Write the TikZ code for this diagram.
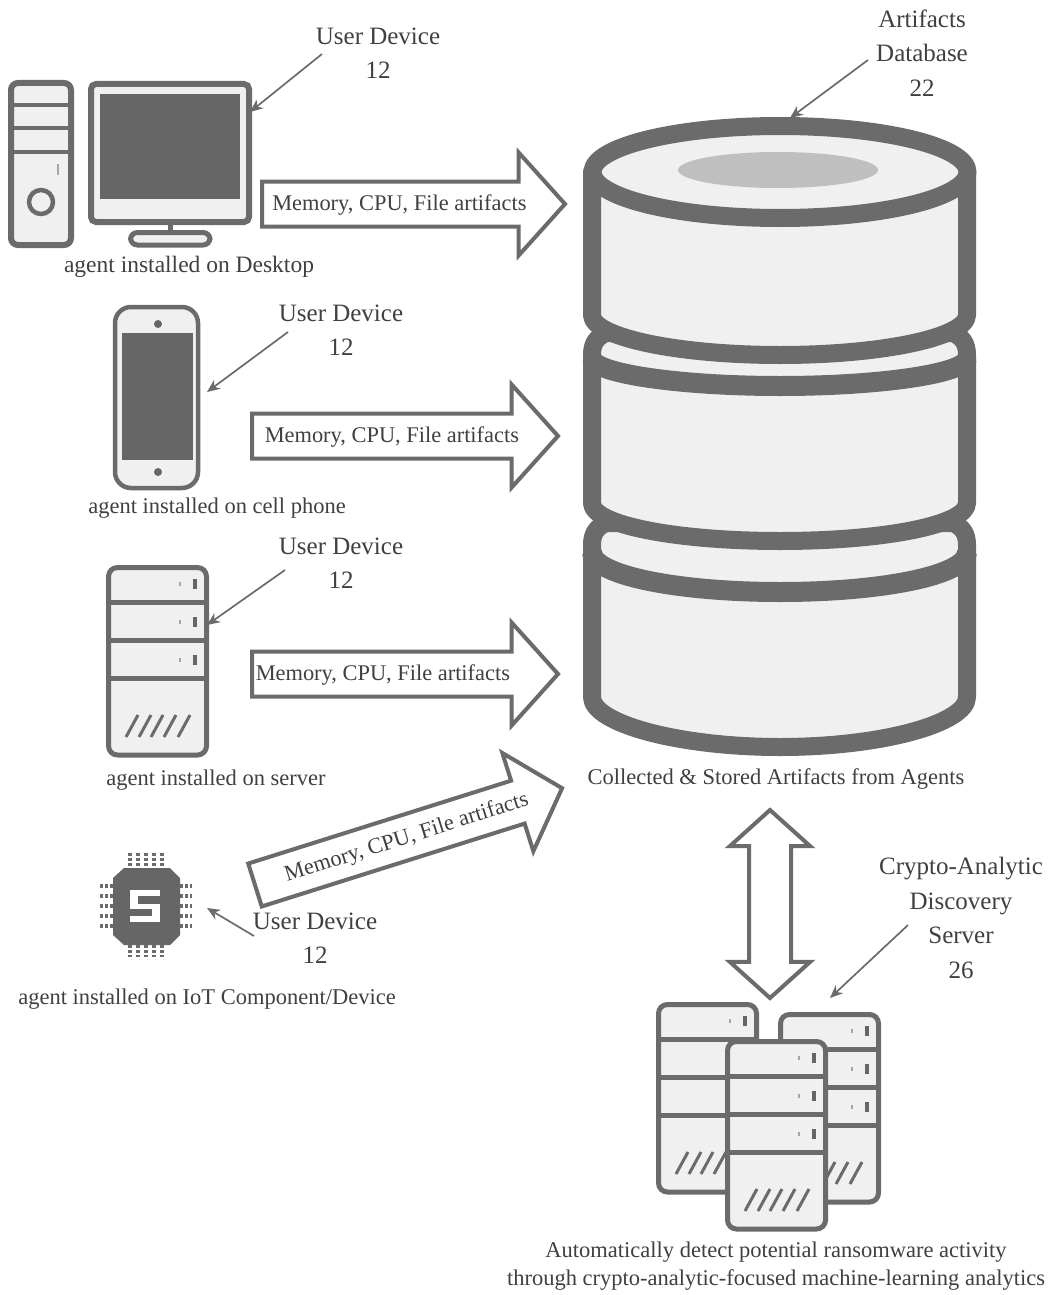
\documentclass[tikz,border=0pt]{standalone}
\usepackage{fontspec}
\setmainfont{Liberation Serif}
\usetikzlibrary{shapes.arrows,arrows.meta}
\definecolor{ink}{gray}{0.42}
\definecolor{dark}{gray}{0.40}
\definecolor{pale}{gray}{0.94}
\definecolor{txt}{gray}{0.25}
\tikzset{
  lab/.style={text=txt,align=center,inner sep=0pt,font=\fontsize{25}{34.5}\selectfont},
  captext/.style={text=txt,align=center,inner sep=0pt,font=\fontsize{22.5}{28}\selectfont},
  blockarrow/.style={single arrow,draw=ink,fill=white,line width=4pt,outer sep=0pt,
    single arrow head extend=29pt,single arrow tip angle=96,
    inner ysep=0pt,inner xsep=0pt,text height=27pt,text depth=14pt,text=txt,
    font=\fontsize{22.4}{24}\selectfont,anchor=tail},
  leader/.style={draw=ink,line width=1.7pt,-{Stealth[length=13pt,width=11pt]}},
  rim/.style={draw=ink,line width=18pt,fill=pale,line join=round},
  rimline/.style={draw=ink,line width=20pt},
  part/.style={draw=ink,line width=5pt,fill=pale,rounded corners=9pt},
  sep/.style={draw=ink,line width=5pt},
  led/.style={draw=dark,line width=4pt},
  dimled/.style={draw=ink!60,line width=2.5pt},
  slash/.style={draw=ink,line width=3pt},
  pin/.style={draw=ink,line width=4pt,dash pattern=on 3pt off 2pt},
}
\newcommand{\srvstack}[2]{%
  \begin{scope}[shift={(#1,#2)}]
    \draw[part] (2.5,2.5) rectangle (100.5,190);
    \draw[sep] (2,37.5)--(101,37.5) (2,75.5)--(101,75.5) (2,113.5)--(101,113.5);
    \foreach \yy in {19,57,95}{
      \draw[led] (89,\yy-5)--(89,\yy+5);
      \draw[dimled] (74,\yy-2)--(74,\yy+2);
    }
    \foreach \xx in {20,33,45,58,72}{
      \draw[slash] (\xx,172)--(\xx+12,150);
    }
  \end{scope}}
\begin{document}
\begin{tikzpicture}[x=1pt,y=-1pt]
\useasboundingbox[fill=white] (0,0) rectangle (1051,1295);

% --- database
\draw[rim] (592,545) .. controls (592,533) and (597,527) .. (606,523) -- (953,523)
  .. controls (962,527) and (967,533) .. (967,545) -- (967,697)
  .. controls (967,723) and (883,747) .. (780,747)
  .. controls (677,747) and (592,723) .. (592,697) -- cycle;
\draw[rimline] (592,552) .. controls (592,575) and (677,592) .. (780,592)
  .. controls (883,592) and (967,575) .. (967,552);
\draw[rim] (592,355) .. controls (592,343) and (597,337) .. (606,333) -- (953,333)
  .. controls (962,337) and (967,343) .. (967,355) -- (967,503)
  .. controls (967,525) and (883,541) .. (780,541)
  .. controls (677,541) and (592,525) .. (592,503) -- cycle;
\draw[rimline] (592,358) .. controls (592,373) and (677,386) .. (780,386)
  .. controls (883,386) and (967,373) .. (967,358);
\draw[rim] (592,172) -- (592,315) .. controls (592,337) and (677,355) .. (780,355)
  .. controls (883,355) and (967,337) .. (967,315) -- (967,172) -- cycle;
\draw[rim] (780,172) ellipse [x radius=187.5,y radius=46];
\fill[gray!50] (778,170) ellipse [x radius=100,y radius=18];
\coordinate (dbtop) at (790,118);

% --- desktop tower
\draw[part,line width=6pt,rounded corners=7pt] (11,83) rectangle (71,245);
\draw[sep,line width=4pt] (11,105)--(71,105) (11,128)--(71,128) (11,152)--(71,152);
\draw[draw=ink,line width=4.5pt] (41,202) circle [radius=12];
\draw[dimled] (58,164)--(58,175);
% --- monitor
\draw[sep] (170,225)--(170,233);
\draw[part,rounded corners=7pt] (130.5,232.5) rectangle (210,245);
\draw[part,line width=6pt,rounded corners=5pt] (91,84) rectangle (249,222);
\fill[dark] (100,94) rectangle (240,199);
\coordinate (monitor) at (250,112);

% --- phone
\draw[part,line width=4.5pt,rounded corners=16pt] (115,307) rectangle (198,488);
\fill[dark] (122,333) rectangle (193,460);
\fill[dark] (158,324) circle [radius=4];
\fill[dark] (158,472) circle [radius=4];
\coordinate (phone) at (207,392);

% --- server
\srvstack{106}{565}
\coordinate (server) at (207,625);

% --- IoT chip
\foreach \yy in {886,896,906,916,926}{
  \draw[pin] (100,\yy)--(114,\yy);
  \draw[pin] (180,\yy)--(192,\yy);
}
\foreach \xx in {130,138,146,154,162}{
  \draw[pin] (\xx,853)--(\xx,869);
  \draw[pin] (\xx,945)--(\xx,957);
}
\fill[dark] (124,868) -- (170,868) -- (180,878) -- (180,935) -- (170,945) -- (124,945) -- (113,935) -- (113,878) -- cycle;
\fill[white] (130,890) rectangle (160,922);
\fill[dark] (138,896) rectangle (160,904);
\fill[dark] (130,909) rectangle (152,916);
\coordinate (chip) at (207,908);

% --- discovery servers
\srvstack{656}{1002}
\srvstack{778}{1012}
\srvstack{725}{1039}
\coordinate (cluster) at (830,998);

% --- block arrows
\node[blockarrow,minimum height=303pt,minimum width=98pt] (a1) at (262,204) {Memory, CPU, File artifacts\hspace*{8pt}};
\node[blockarrow,minimum height=306pt,minimum width=98pt] (a2) at (252,436) {Memory, CPU, File artifacts\hspace*{6pt}};
\node[blockarrow,minimum height=306pt,minimum width=98pt] (a3) at (252,674) {Memory, CPU, File artifacts\hspace*{24pt}};
\node[blockarrow,minimum height=322pt,minimum width=98pt,rotate=17.5] (a4) at (255,885) {\hspace*{16pt}Memory, CPU, File artifacts};
\node[double arrow,draw=ink,fill=white,line width=4pt,outer sep=0pt,rotate=90,
  minimum height=188pt,double arrow head extend=19pt,double arrow tip angle=96,
  inner xsep=0pt,inner ysep=19pt,text height=0pt,text depth=0pt] (a5) at (770,904) {};

% --- labels
\node[lab] (l1) at (378,53) {User Device\\12};
\node[lab] (l2) at (341,330) {User Device\\12};
\node[lab] (l3) at (341,563) {User Device\\12};
\node[lab] (l4) at (315,938) {User Device\\12};
\node[lab] (l5) at (922,53) {Artifacts\\Database\\22};
\node[lab] (l6) at (961,918) {Crypto-Analytic\\Discovery\\Server\\26};

\coordinate (s1) at (322,54);
\coordinate (s2) at (288,332);
\coordinate (s3) at (285,570);
\coordinate (s4) at (254,936);
\coordinate (s5) at (868,60);
\coordinate (s6) at (908,925);
\draw[leader] (s1) -- (monitor);
\draw[leader] (s2) -- (phone);
\draw[leader] (s3) -- (server);
\draw[leader] (s4) -- (chip);
\draw[leader] (s5) -- (dbtop);
\draw[leader] (s6) -- (cluster);

% --- captions
\node[captext] (c1) at (189,267) {\fontsize{23.5}{28}\selectfont agent installed on Desktop};
\node[captext] (c2) at (217,508) {agent installed on cell phone};
\node[captext] (c3) at (216,780) {agent installed on server};
\node[captext] (c4) at (207,999) {agent installed on IoT Component/Device};
\node[captext] (c5) at (776,779) {Collected \& Stored Artifacts from Agents};
\node[captext] (c6) at (776,1266) {Automatically detect potential ransomware activity\\through crypto-analytic-focused machine-learning analytics};
\end{tikzpicture}
\end{document}
